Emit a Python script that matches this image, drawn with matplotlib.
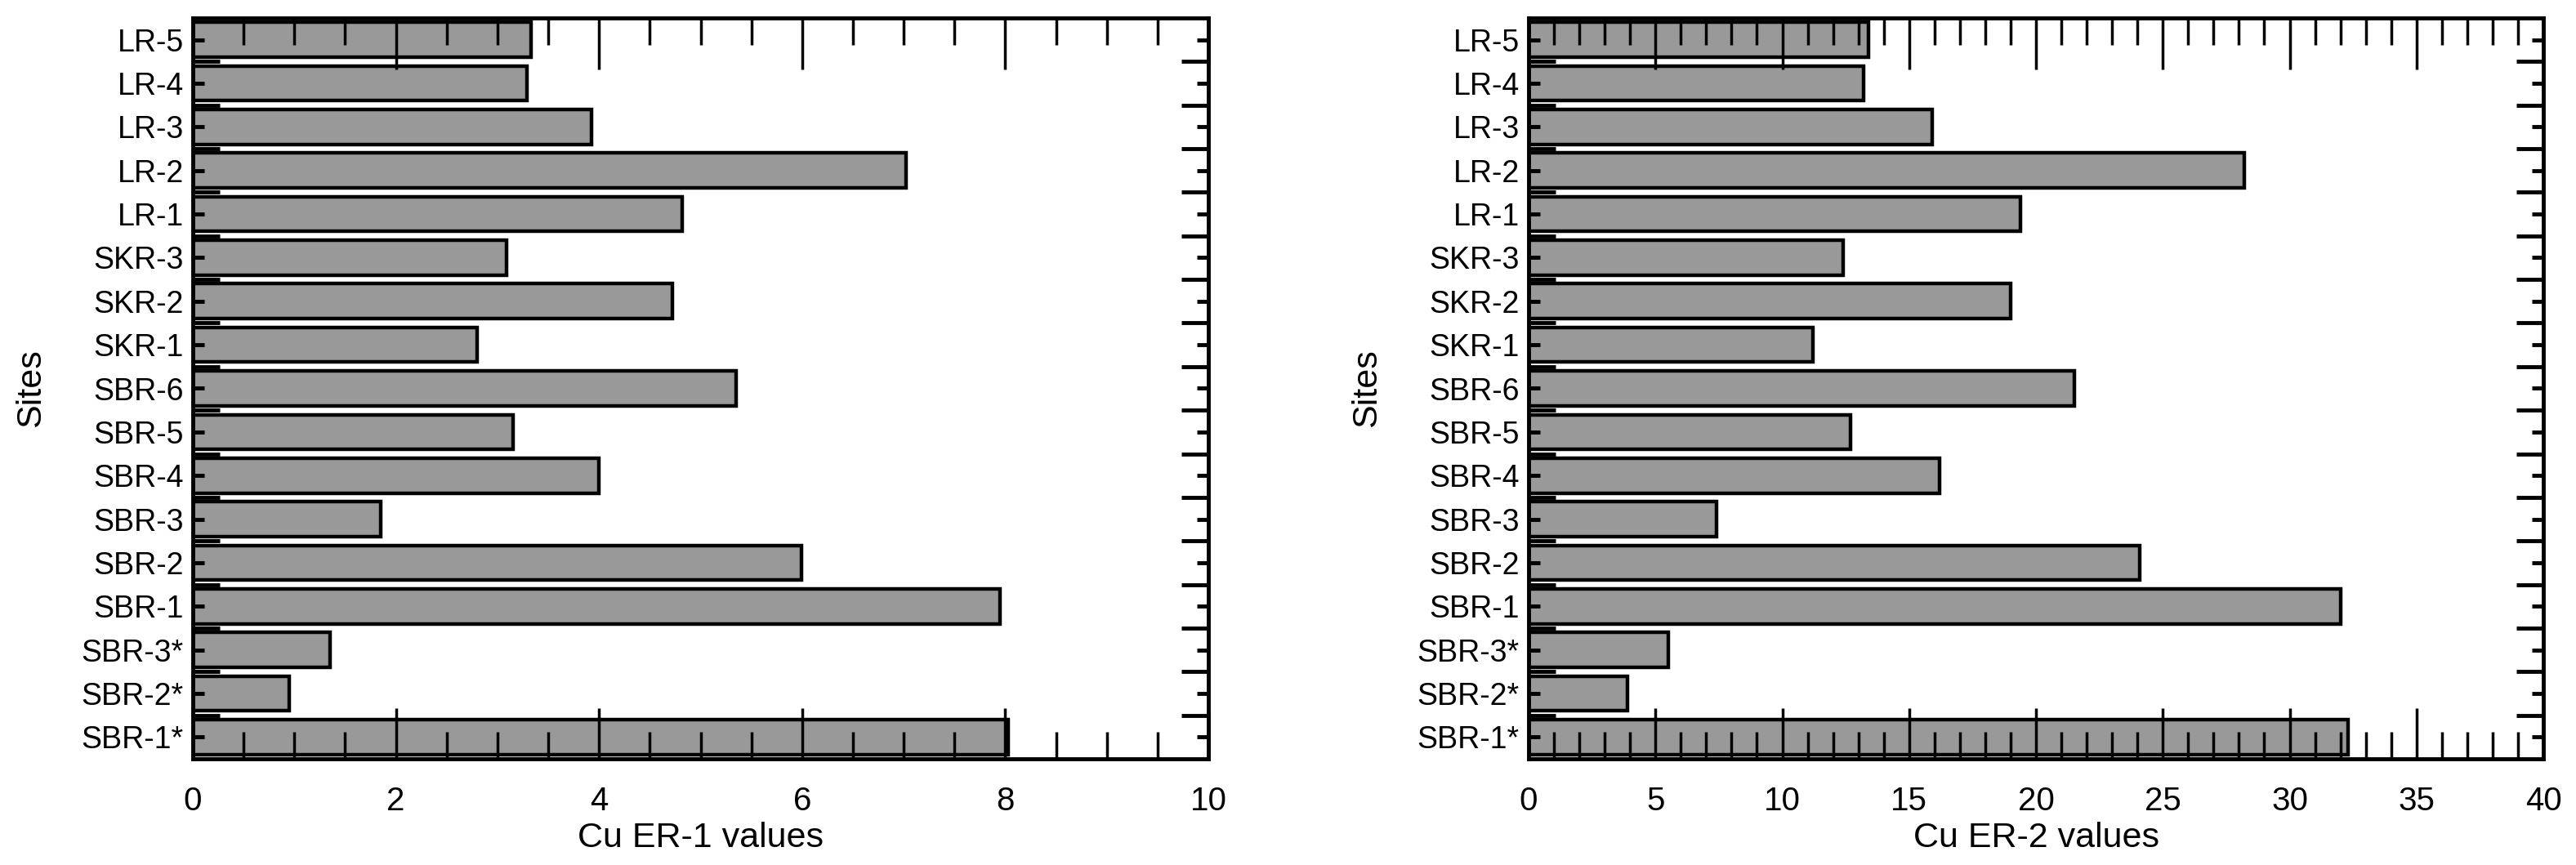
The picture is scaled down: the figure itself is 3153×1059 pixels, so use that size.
import matplotlib
matplotlib.use("Agg")
import matplotlib.pyplot as plt
from matplotlib.ticker import MultipleLocator, FixedLocator

plt.rcParams['font.family'] = ['Liberation Sans Narrow', 'Liberation Sans', 'DejaVu Sans']

# sites from bottom to top
sites = ["SBR-1*", "SBR-2*", "SBR-3*", "SBR-1", "SBR-2", "SBR-3", "SBR-4", "SBR-5",
         "SBR-6", "SKR-1", "SKR-2", "SKR-3", "LR-1", "LR-2", "LR-3", "LR-4", "LR-5"]
er1 = [8.03, 0.95, 1.35, 7.95, 5.99, 1.85, 4.00, 3.15,
       5.35, 2.80, 4.72, 3.09, 4.82, 7.02, 3.93, 3.29, 3.33]
er2 = [32.3, 3.9, 5.5, 32.0, 24.1, 7.4, 16.2, 12.7,
       21.5, 11.2, 19.0, 12.4, 19.4, 28.2, 15.9, 13.2, 13.4]

W, H = 3153, 1059
fig = plt.figure(figsize=(W / 100, H / 100), dpi=100)

panels = [
    (er1, "Cu ER-1 values", 10, 2, 0.5, [236 / W, 1 - 929 / H, (1479 - 236) / W, (929 - 22) / H]),
    (er2, "Cu ER-2 values", 40, 5, 1, [1871 / W, 1 - 929 / H, (3113 - 1871) / W, (929 - 22) / H]),
]

ypos = list(range(len(sites)))
for vals, xlabel, xmax, major, minor, rect in panels:
    ax = fig.add_axes(rect)
    ax.barh(ypos, vals, height=0.8, color="#999999", edgecolor="black", linewidth=3.2)
    ax.set_xlim(0, xmax)
    ax.set_ylim(-0.5, len(sites) - 0.5)
    ax.set_yticks(ypos)
    ax.set_yticklabels(sites)
    ax.yaxis.set_minor_locator(FixedLocator([i + 0.5 for i in range(len(sites) - 1)]))
    ax.xaxis.set_major_locator(MultipleLocator(major))
    ax.xaxis.set_minor_locator(MultipleLocator(minor))
    for s in ax.spines.values():
        s.set_linewidth(3.5)
    ax.tick_params(axis="x", which="major", direction="in", length=45, width=2.5,
                   top=True, bottom=True, labelsize=29, pad=24)
    ax.tick_params(axis="x", which="minor", direction="in", length=24, width=2.5,
                   top=True, bottom=True)
    ax.tick_params(axis="y", which="major", direction="in", length=10, width=3.5,
                   left=True, right=True, labelsize=27, pad=8)
    ax.tick_params(axis="y", which="minor", direction="in", length=24, width=3.5,
                   left=True, right=True)
    ax.set_xlabel(xlabel, fontsize=31, labelpad=4)
    ax.set_ylabel("Sites", fontsize=31, labelpad=30)

fig.savefig("out.png", dpi=100)
